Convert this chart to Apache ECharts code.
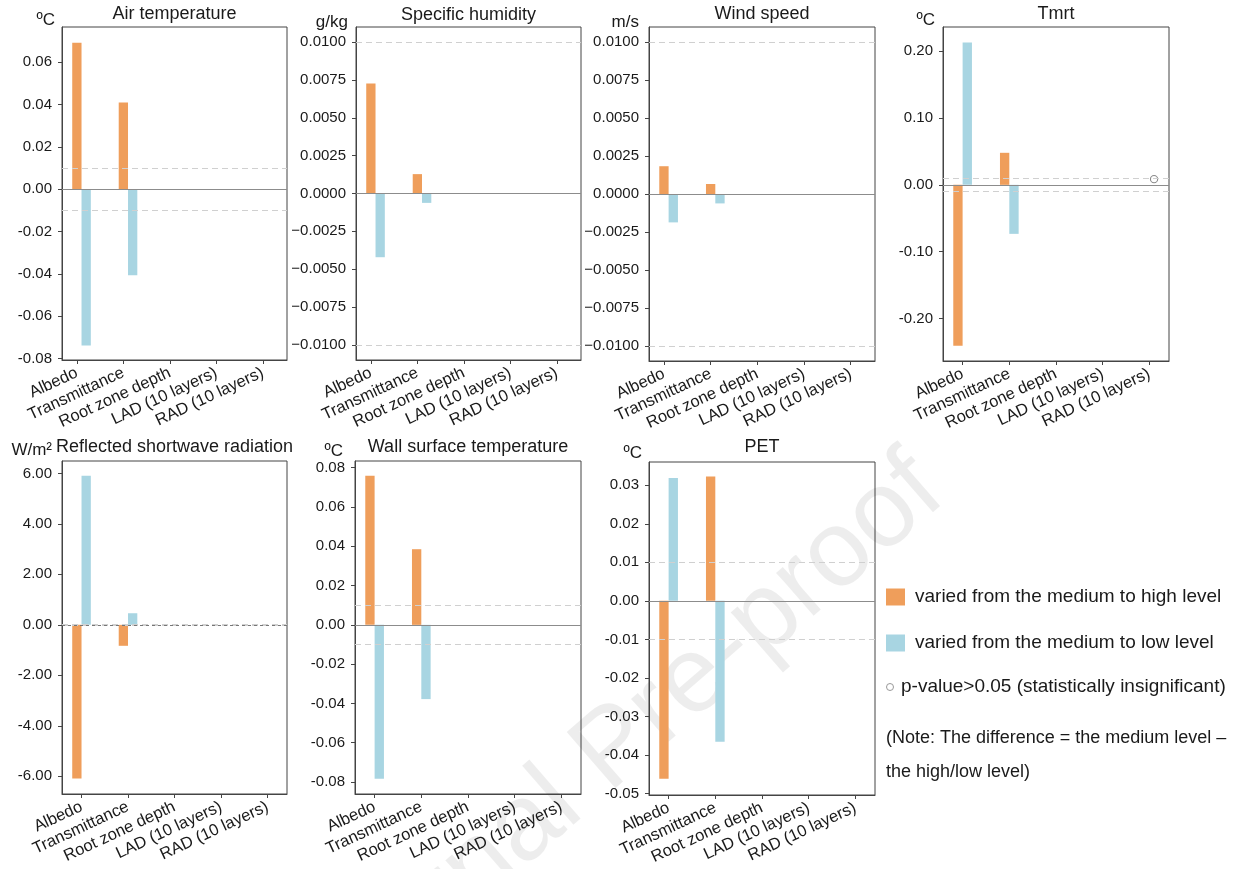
<!DOCTYPE html>
<html>
<head>
<meta charset="utf-8">
<script src="https://cdn.jsdelivr.net/npm/echarts@6/dist/echarts.min.js"></script>
<style>
  html, body { margin: 0; padding: 0; background: #ffffff; }
  #chart { width: 1255px; height: 869px; }
</style>
</head>
<body>
<div id="chart"></div>
<script>
// Parameters varied in the sensitivity runs
const categories = ['Albedo', 'Transmittance', 'Root zone depth', 'LAD (10 layers)', 'RAD (10 layers)'];

// Differences: medium level minus high level (High) and minus low level (Low)
const airTempHigh = [0.0693, 0.0410, 0, 0, 0];
const airTempLow = [-0.0739, -0.0407, 0, 0, 0];
const humidityHigh = [0.00727, 0.00128, 0, 0, 0];
const humidityLow = [-0.00421, -0.00062, 0, 0, 0];
const windHigh = [0.00183, 0.00066, 0, 0, 0];
const windLow = [-0.00187, -0.00062, 0, 0, 0];
const tmrtHigh = [-0.2405, 0.0479, 0, 0, 0];
const tmrtLow = [0.2130, -0.0733, 0, 0, 0];
const tmrtLowInsignificant = [[4, 0.0085]];
const shortwaveHigh = [-6.09, -0.83, 0, 0, 0];
const shortwaveLow = [5.906, 0.46, 0, 0, 0];
const wallHigh = [0.0759, 0.0385, 0, 0, 0];
const wallLow = [-0.0783, -0.0378, 0, 0, 0];
const petHigh = [-0.0462, 0.0323, 0, 0, 0];
const petLow = [0.0319, -0.0366, 0, 0, 0];

// Y tick values for each panel
const airTempTicks = [-0.08, -0.06, -0.04, -0.02, 0, 0.02, 0.04, 0.06];
const humidityTicks = [-0.01, -0.0075, -0.005, -0.0025, 0, 0.0025, 0.005, 0.0075, 0.01];
const windTicks = [-0.01, -0.0075, -0.005, -0.0025, 0, 0.0025, 0.005, 0.0075, 0.01];
const tmrtTicks = [-0.2, -0.1, 0, 0.1, 0.2];
const shortwaveTicks = [-6, -4, -2, 0, 2, 4, 6];
const wallTicks = [-0.08, -0.06, -0.04, -0.02, 0, 0.02, 0.04, 0.06, 0.08];
const petTicks = [-0.05, -0.04, -0.03, -0.02, -0.01, 0, 0.01, 0.02, 0.03];

const categoryIndex = [0, 1, 2, 3, 4];

const HIGH_NAME = 'varied from the medium to high level';
const LOW_NAME = 'varied from the medium to low level';
const PVAL_NAME = 'p-value>0.05 (statistically insignificant)';
const HIGH_COLOR = '#EF9E5B';
const LOW_COLOR = '#A8D5E2';
const FONT = 'Liberation Sans, Arial, sans-serif';
const BAR_W = 0.2;
const threshold = 0.01;

const panels = [
  { title: 'Air temperature', unit: 'ºC', grid: [62, 27, 225, 333], y: [-0.0807, 0.0767], ticks: airTempTicks, dec: 2, minus: '-',
    high: airTempHigh, low: airTempLow, offset: 0, x: [-0.32, 4.52], titleY: 14, unitX: 55, unitY: 20, zeroDashed: false },
  { title: 'Specific humidity', unit: 'g/kg', grid: [356, 27, 225, 333], y: [-0.011, 0.011], ticks: humidityTicks, dec: 4, minus: '\u2212',
    high: humidityHigh, low: humidityLow, offset: 0, x: [-0.32, 4.52], titleY: 15, unitX: 348, unitY: 22, zeroDashed: false },
  { title: 'Wind speed', unit: 'm/s', grid: [649, 27, 226, 334], y: [-0.011, 0.011], ticks: windTicks, dec: 4, minus: '\u2212',
    high: windHigh, low: windLow, offset: 0, x: [-0.32, 4.52], titleY: 14, unitX: 639, unitY: 22, zeroDashed: false },
  { title: 'Tmrt', unit: 'ºC', grid: [943, 27, 226, 334], y: [-0.2634, 0.236], ticks: tmrtTicks, dec: 2, minus: '-',
    high: tmrtHigh, low: tmrtLow, offset: -0.1, x: [-0.42, 4.42], titleY: 14, unitX: 935, unitY: 20, zeroDashed: false,
    insignificant: tmrtLowInsignificant },
  { title: 'Reflected shortwave radiation', unit: 'W/m\u00B2', grid: [62, 461, 225, 333], y: [-6.70, 6.49], ticks: shortwaveTicks, dec: 2, minus: '-',
    high: shortwaveHigh, low: shortwaveLow, offset: -0.1, x: [-0.42, 4.42], titleY: 447, unitX: 52, unitY: 450, zeroDashed: true },
  { title: 'Wall surface temperature', unit: 'ºC', grid: [355, 461, 226, 333], y: [-0.0861, 0.0834], ticks: wallTicks, dec: 2, minus: '-',
    high: wallHigh, low: wallLow, offset: -0.1, x: [-0.42, 4.42], titleY: 447, unitX: 343, unitY: 451, zeroDashed: false },
  { title: 'PET', unit: 'ºC', grid: [649, 462, 226, 333], y: [-0.0504, 0.03605], ticks: petTicks, dec: 2, minus: '-',
    high: petHigh, low: petLow, offset: -0.1, x: [-0.42, 4.42], titleY: 447, unitX: 642, unitY: 453, zeroDashed: false }
];

// Bars are laid out in category units: high bar at offset, low bar one bar-width to its right
function barRenderer(shift, color) {
  return function (params, api) {
    const i = api.value(0);
    const v = api.value(1);
    const a = api.coord([i + shift - BAR_W / 2, v]);
    const b = api.coord([i + shift + BAR_W / 2, 0]);
    return {
      type: 'rect',
      shape: { x: a[0], y: Math.min(a[1], b[1]), width: b[0] - a[0], height: Math.abs(b[1] - a[1]) },
      style: { fill: color }
    };
  };
}

function circleRenderer(shift) {
  return function (params, api) {
    const p = api.coord([api.value(0) + shift, api.value(1)]);
    return {
      type: 'circle',
      shape: { cx: p[0], cy: p[1], r: 3.6 },
      style: { fill: '#ffffff', stroke: '#8a8a8a', lineWidth: 1.1 }
    };
  };
}

const grids = [], xAxes = [], yAxes = [], series = [], graphics = [];

panels.forEach(function (p, k) {
  grids.push({
    left: p.grid[0], top: p.grid[1], width: p.grid[2], height: p.grid[3],
    show: true, borderColor: '#444', borderWidth: 1, backgroundColor: 'transparent', containLabel: false
  });
  xAxes.push({
    gridIndex: k, type: 'value', min: p.x[0], max: p.x[1],
    axisLine: { show: true, onZero: false, lineStyle: { color: '#444', width: 1 } },
    axisTick: { show: true, customValues: categoryIndex, length: 4, lineStyle: { color: '#444' } },
    axisLabel: {
      show: true, customValues: categoryIndex, rotate: 25, margin: 12,
      formatter: function (v) { return categories[Math.round(v)]; },
      fontFamily: FONT, fontSize: 16.5, color: '#1a1a1a'
    },
    splitLine: { show: false }
  });
  yAxes.push({
    gridIndex: k, type: 'value', min: p.y[0], max: p.y[1],
    axisLine: { show: true, onZero: false, lineStyle: { color: '#444', width: 1 } },
    axisTick: { show: true, customValues: p.ticks, length: 4, lineStyle: { color: '#444' } },
    axisLabel: {
      show: true, customValues: p.ticks, margin: 10,
      formatter: function (v) {
        const s = Math.abs(v).toFixed(p.dec);
        return v < -1e-12 ? p.minus + s : s;
      },
      fontFamily: FONT, fontSize: 15, color: '#1a1a1a'
    },
    splitLine: { show: false }
  });

  // Reference lines: ±0.01 threshold (dashed) and zero line
  const zeroStyle = p.zeroDashed
    ? { color: '#777', type: [3, 3], width: 1 }
    : { color: '#8c8c8c', type: 'solid', width: 1 };
  series.push({
    type: 'line', xAxisIndex: k, yAxisIndex: k, data: [], silent: true, z: 1,
    markLine: {
      silent: true, symbol: ['none', 'none'], animation: false,
      label: { show: false },
      data: [
        { yAxis: threshold, lineStyle: { color: '#d0d0d0', type: [6, 4], width: 1 } },
        { yAxis: -threshold, lineStyle: { color: '#d0d0d0', type: [6, 4], width: 1 } },
        { yAxis: 0, lineStyle: zeroStyle }
      ]
    }
  });

  series.push({
    name: HIGH_NAME, type: 'custom', xAxisIndex: k, yAxisIndex: k, z: 2, clip: true,
    itemStyle: { color: HIGH_COLOR },
    encode: { x: 0, y: 1 },
    renderItem: barRenderer(p.offset, HIGH_COLOR),
    data: p.high.map(function (v, i) { return [categoryIndex[i], v]; })
  });
  series.push({
    name: LOW_NAME, type: 'custom', xAxisIndex: k, yAxisIndex: k, z: 2, clip: true,
    itemStyle: { color: LOW_COLOR },
    encode: { x: 0, y: 1 },
    renderItem: barRenderer(p.offset + BAR_W, LOW_COLOR),
    data: p.low.map(function (v, i) { return [categoryIndex[i], v]; })
  });
  if (p.insignificant) {
    series.push({
      name: PVAL_NAME, type: 'custom', xAxisIndex: k, yAxisIndex: k, z: 3, clip: true,
      itemStyle: { color: '#ffffff', borderColor: '#8a8a8a', borderWidth: 1 },
      encode: { x: 0, y: 1 },
      renderItem: circleRenderer(p.offset + BAR_W),
      data: p.insignificant
    });
  }

  const cx = p.grid[0] + p.grid[2] / 2;
  graphics.push({
    type: 'text', x: cx, y: p.titleY, z: 10,
    style: { text: p.title, align: 'center', verticalAlign: 'middle', font: '18px ' + FONT, fill: '#1a1a1a' }
  });
  graphics.push({
    type: 'text', x: p.unitX, y: p.unitY, z: 10,
    style: { text: p.unit, align: 'right', verticalAlign: 'middle', font: '17px ' + FONT, fill: '#1a1a1a' }
  });
});

// Note beneath the legend
graphics.push({
  type: 'text', x: 886, y: 738, z: 10,
  style: { text: '(Note: The difference = the medium level \u2013', align: 'left', verticalAlign: 'middle', font: '18px ' + FONT, fill: '#1a1a1a' }
});
graphics.push({
  type: 'text', x: 886, y: 772, z: 10,
  style: { text: 'the high/low level)', align: 'left', verticalAlign: 'middle', font: '18px ' + FONT, fill: '#1a1a1a' }
});

// Journal watermark
graphics.push({
  type: 'text', x: 614, y: 750, rotation: 41 * Math.PI / 180, z: 0, silent: true,
  style: { text: 'Journal Pre-proof', align: 'center', verticalAlign: 'middle', font: '108px ' + FONT, fill: 'rgba(0,0,0,0.07)' }
});

const legendBase = {
  orient: 'vertical', selectedMode: false, itemGap: 0,
  textStyle: { fontFamily: FONT, fontSize: 19, color: '#1a1a1a', lineHeight: 22, padding: [0, 0, 0, 5] },
  padding: 0
};

const option = {
  animation: false,
  backgroundColor: '#ffffff',
  grid: grids,
  xAxis: xAxes,
  yAxis: yAxes,
  series: series,
  legend: [
    Object.assign({}, legendBase, {
      left: 886, top: 586, itemWidth: 19, itemHeight: 17,
      data: [{ name: HIGH_NAME, icon: 'rect', itemStyle: { color: HIGH_COLOR } }]
    }),
    Object.assign({}, legendBase, {
      left: 886, top: 632, itemWidth: 19, itemHeight: 17,
      data: [{ name: LOW_NAME, icon: 'rect', itemStyle: { color: LOW_COLOR } }]
    }),
    Object.assign({}, legendBase, {
      left: 886, top: 676, itemWidth: 12, itemHeight: 7,
      textStyle: { fontFamily: FONT, fontSize: 19, color: '#1a1a1a', lineHeight: 22, padding: [0, 0, 0, 0] },
      data: [{ name: PVAL_NAME, icon: 'circle', itemStyle: { color: '#ffffff', borderColor: '#999', borderWidth: 1 } }]
    })
  ],
  graphic: graphics
};

const chart = echarts.init(document.getElementById('chart'), null, { renderer: 'canvas' });
chart.setOption(option);
</script>
</body>
</html>
